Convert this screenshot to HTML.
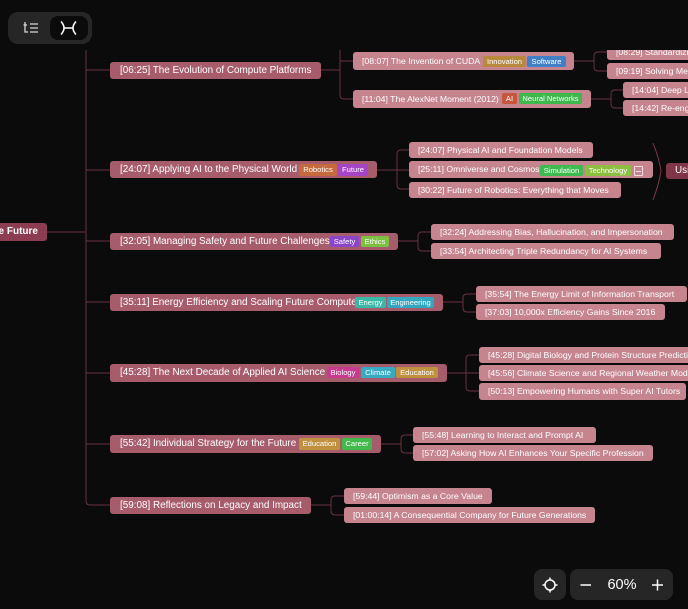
<!DOCTYPE html>
<html><head><meta charset="utf-8">
<style>
html,body{margin:0;padding:0;background:#0b0b0b;width:688px;height:609px;overflow:hidden;font-family:"Liberation Sans",Arial,sans-serif;}
#clip{position:absolute;left:0;top:0;width:688px;height:609px;overflow:hidden;clip-path:inset(50px 0 0 0);}
.n{position:absolute;box-sizing:border-box;border-radius:3px;color:#fff;white-space:nowrap;overflow:hidden;}
.l1{background:#a65c6b;font-size:9.9px;height:17px;line-height:17px;padding-left:10px;}
.l2{background:#c5848e;font-size:8.7px;height:16px;line-height:16px;padding-left:9px;}
.t{position:absolute;height:11px;line-height:11px;font-size:7.6px;color:#fff;text-align:center;border-radius:2px;white-space:nowrap;overflow:hidden;}
svg{position:absolute;left:0;top:0;}
</style></head><body>
<div id="clip">
<svg width="688" height="609" viewBox="0 0 688 609">
<g fill="none" stroke="#6a3040" stroke-width="1">
<path d="M47 232 H86"/>
<path d="M86 40 V501 Q86 505 90 505 H110"/>
<path d="M86 70 H110 M86 170 H110 M86 241 H110 M86 302 H110 M86 373 H110 M86 444 H110"/>
<path d="M321 70 H340 M340 40 V95 Q340 99 344 99 H353 M340 61 H353"/>
<path d="M574 61 H594 M607 52 H598 Q594 52 594 56 V67 Q594 71 598 71 H607"/>
<path d="M591 99 H611 M623 90 H615 Q611 90 611 94 V104 Q611 108 615 108 H623"/>
<path d="M377 170 H409 M409 150 H401 Q397 150 397 154 V185 Q397 189 401 189 H409"/>
<path d="M398 241 H418 M431 232 H422 Q418 232 418 236 V247 Q418 251 422 251 H431"/>
<path d="M443 302 H463 M476 294 H467 Q463 294 463 298 V308 Q463 312 467 312 H476"/>
<path d="M447 373 H479 M479 355 H470 Q466 355 466 359 V387 Q466 391 470 391 H479"/>
<path d="M381 444 H401 M413 435 H405 Q401 435 401 439 V449 Q401 453 405 453 H413"/>
<path d="M311 505 H331 M344 496 H335 Q331 496 331 500 V511 Q331 515 335 515 H344"/>
<path d="M653 143 Q659 158 661 171 Q659 184 653 200" stroke="#7a3848"/>
</g>
</svg>

<div class="n" style="left:0;top:223px;width:47px;height:18px;background:#8c3d52;font-size:10px;font-weight:bold;border-radius:0 3px 3px 0;"><span style="position:absolute;right:9px;top:0;line-height:18px;">the Future</span></div>

<div class="n l1" style="left:110px;top:62px;width:211px;">[06:25] The Evolution of Compute Platforms</div>
<div class="n l1" style="left:110px;top:161px;width:267px;">[24:07] Applying AI to the Physical World</div>
<div class="n l1" style="left:110px;top:233px;width:288px;">[32:05] Managing Safety and Future Challenges</div>
<div class="n l1" style="left:110px;top:294px;width:333px;">[35:11] Energy Efficiency and Scaling Future Compute</div>
<div class="n l1" style="left:110px;top:364px;width:337px;height:18px;line-height:18px;">[45:28] The Next Decade of Applied AI Science</div>
<div class="n l1" style="left:110px;top:435px;width:271px;height:18px;line-height:18px;">[55:42] Individual Strategy for the Future</div>
<div class="n l1" style="left:110px;top:497px;width:201px;">[59:08] Reflections on Legacy and Impact</div>

<div class="n l2" style="left:353px;top:52px;width:221px;height:18px;line-height:18px;">[08:07] The Invention of CUDA</div>
<div class="n l2" style="left:353px;top:90px;width:238px;height:18px;line-height:18px;">[11:04] The AlexNet Moment (2012)</div>
<div class="n l2" style="left:607px;top:44px;width:81px;border-radius:3px 0 0 3px;">[08:29] Standardizing the Platform</div>
<div class="n l2" style="left:607px;top:63px;width:81px;border-radius:3px 0 0 3px;">[09:19] Solving Memory Bandwidth</div>
<div class="n l2" style="left:623px;top:82px;width:65px;border-radius:3px 0 0 3px;">[14:04] Deep Learning Breakthrough</div>
<div class="n l2" style="left:623px;top:100px;width:65px;border-radius:3px 0 0 3px;">[14:42] Re-engineering the Stack</div>

<div class="n l2" style="left:409px;top:142px;width:184px;">[24:07] Physical AI and Foundation Models</div>
<div class="n l2" style="left:409px;top:161px;width:244px;height:17px;line-height:17px;">[25:11] Omniverse and Cosmos</div>
<div class="n l2" style="left:409px;top:182px;width:212px;">[30:22] Future of Robotics: Everything that Moves</div>
<div class="n" style="left:666px;top:163px;width:22px;height:16px;line-height:16px;background:#7f3648;font-size:9.9px;padding-left:9px;border-radius:3px 0 0 3px;">Using AI</div>

<div class="n l2" style="left:431px;top:224px;width:243px;">[32:24] Addressing Bias, Hallucination, and Impersonation</div>
<div class="n l2" style="left:431px;top:243px;width:230px;">[33:54] Architecting Triple Redundancy for AI Systems</div>

<div class="n l2" style="left:476px;top:286px;width:211px;">[35:54] The Energy Limit of Information Transport</div>
<div class="n l2" style="left:476px;top:304px;width:189px;">[37:03] 10,000x Efficiency Gains Since 2016</div>

<div class="n l2" style="left:479px;top:347px;width:209px;border-radius:3px 0 0 3px;">[45:28] Digital Biology and Protein Structure Prediction</div>
<div class="n l2" style="left:479px;top:365px;width:209px;border-radius:3px 0 0 3px;">[45:56] Climate Science and Regional Weather Modeling</div>
<div class="n l2" style="left:479px;top:383px;width:207px;height:17px;line-height:17px;">[50:13] Empowering Humans with Super AI Tutors</div>

<div class="n l2" style="left:413px;top:427px;width:183px;">[55:48] Learning to Interact and Prompt AI</div>
<div class="n l2" style="left:413px;top:445px;width:240px;">[57:02] Asking How AI Enhances Your Specific Profession</div>

<div class="n l2" style="left:344px;top:488px;width:148px;">[59:44] Optimism as a Core Value</div>
<div class="n l2" style="left:344px;top:507px;width:251px;">[01:00:14] A Consequential Company for Future Generations</div>

<!-- tags -->
<div class="t" style="left:483px;top:56px;width:43px;background:#b98a3d;">Innovation</div>
<div class="t" style="left:527px;top:56px;width:39px;background:#4080c8;">Software</div>
<div class="t" style="left:502px;top:93px;width:15px;background:#c5573f;">AI</div>
<div class="t" style="left:519px;top:93px;width:63px;background:#3db84a;">Neural Networks</div>

<div class="t" style="left:299px;top:164px;width:38px;height:12px;line-height:12px;background:#c46a3c;">Robotics</div>
<div class="t" style="left:338px;top:164px;width:30px;height:12px;line-height:12px;background:#a544c4;">Future</div>
<div class="t" style="left:540px;top:165px;width:43px;background:#3dbb4f;">Simulation</div>
<div class="t" style="left:585px;top:165px;width:46px;background:#8cbf3f;">Technology</div>
<div style="position:absolute;left:634px;top:166px;width:7px;height:8px;border:1px solid #f3dde1;border-radius:1px;"></div>
<div style="position:absolute;left:636px;top:171px;width:5px;height:1px;background:#f3dde1;"></div>

<div class="t" style="left:330px;top:236px;width:29px;background:#8b45c8;">Safety</div>
<div class="t" style="left:361px;top:236px;width:28px;background:#7dc142;">Ethics</div>

<div class="t" style="left:355px;top:297px;width:31px;background:#3bb8a5;">Energy</div>
<div class="t" style="left:387px;top:297px;width:47px;background:#33a6c0;">Engineering</div>

<div class="t" style="left:327px;top:367px;width:32px;background:#c83a90;">Biology</div>
<div class="t" style="left:361px;top:367px;width:34px;background:#39a9c2;">Climate</div>
<div class="t" style="left:396px;top:367px;width:42px;background:#bf913f;">Education</div>

<div class="t" style="left:299px;top:438px;width:41px;height:12px;line-height:12px;background:#bf913f;">Education</div>
<div class="t" style="left:342px;top:438px;width:30px;height:12px;line-height:12px;background:#42b94a;">Career</div>
</div>

<!-- top toolbar -->
<div style="position:absolute;left:8px;top:12px;width:84px;height:32px;background:#262626;border-radius:10px;"></div>
<div style="position:absolute;left:50px;top:16px;width:38px;height:24px;background:#0b0b0b;border-radius:8px;"></div>
<svg width="688" height="609" viewBox="0 0 688 609">
<g fill="none" stroke="#d8d8d8" stroke-width="1.3">
<path d="M25 22 V32 H28"/>
<path d="M23.5 25 H27"/>
<path d="M30 24 H38 M30 28 H38 M30 32 H38"/>
</g>
<g fill="none" stroke="#ffffff" stroke-width="1.5">
<path d="M61 21.5 Q67 28 61 34.5"/>
<path d="M76 21.5 Q70 28 76 34.5"/>
<path d="M63.5 28 H73.5"/>
</g>
</svg>

<!-- bottom controls -->
<div style="position:absolute;left:534px;top:569px;width:32px;height:31px;background:#262626;border-radius:8px;"></div>
<div style="position:absolute;left:570px;top:569px;width:103px;height:31px;background:#262626;border-radius:8px;"></div>
<svg width="688" height="609" viewBox="0 0 688 609">
<g fill="none" stroke="#ffffff" stroke-width="1.5">
<circle cx="550" cy="585" r="5"/>
<path d="M550 577.5 V580 M550 590 V592.5 M542.5 585 H545 M555 585 H557.5"/>
<path d="M580.5 585 H591"/>
<path d="M652 585 H663 M657.5 579.5 V590.5"/>
</g>
</svg>
<div style="position:absolute;left:600px;top:576px;width:44px;height:18px;line-height:18px;text-align:center;color:#fff;font-size:14.5px;font-weight:500;">60%</div>
</body></html>
